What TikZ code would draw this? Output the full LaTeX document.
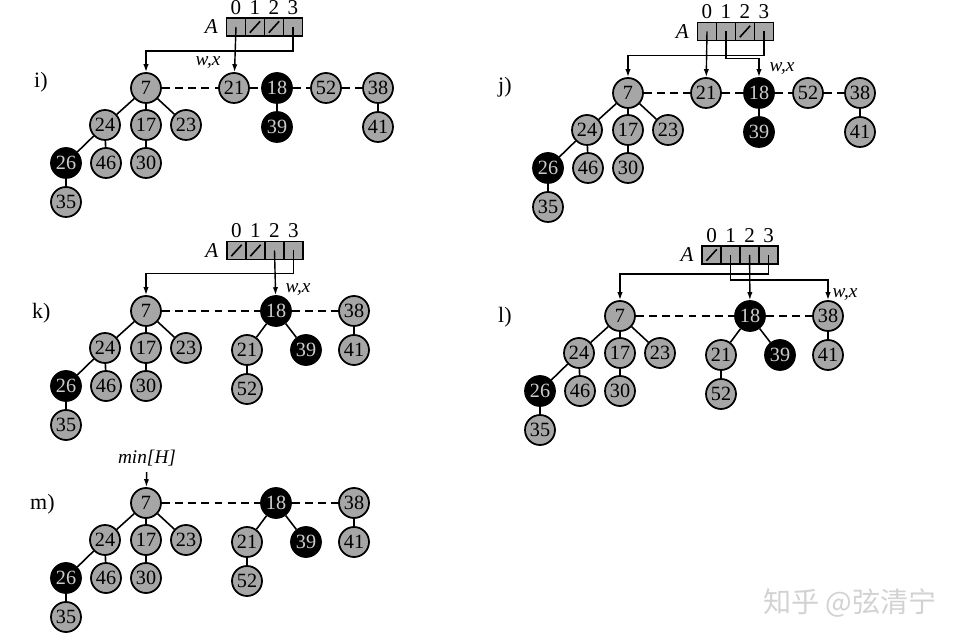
\documentclass[tikz,border=0pt]{standalone}
\usepackage{fontspec}
\setmainfont{Liberation Serif}
\newfontfamily\cjkfont{Noto Sans CJK SC}
\usepackage{tikz}
\usetikzlibrary{arrows.meta,positioning,calc}

\begin{document}
\begin{tikzpicture}[
    x=0.02cm, y=-0.02cm,
    key/.style={circle, draw, line width=1pt, fill=gray!70, minimum size=0.6cm, inner sep=0pt, font=\fontsize{11.5}{12}\selectfont},
    dark/.style={key, fill=black, text=black!20},
    cell/.style={rectangle, draw, line width=0.8pt, fill=gray!70, minimum width=0.38cm, minimum height=0.36cm, inner sep=0pt},
    idx/.style={font=\fontsize{12}{13}\selectfont, inner sep=1.5pt},
    tag/.style={font=\fontsize{12.5}{13}\selectfont, anchor=west},
    wx/.style={font=\fontsize{11}{12}\selectfont\itshape},
    link/.style={line width=0.9pt},
    sib/.style={line width=0.9pt, dash pattern=on 4.5pt off 3pt},
    ptr/.style={-{Latex[length=4.5pt,width=3pt]}, line width=0.8pt}
]
\useasboundingbox (0,0) rectangle (964,641);

% Left-hand tree, same in every panel
\foreach \p/\x/\y in {i/146/88, j/628/93, k/146/311, l/620/316, m/146/503} {
  \begin{scope}[shift={(\x,\y)}, name prefix=\p-]
    \node[key] (n7) at (0,0) {7};
    \node[key] (n24) at (-41,37) {24};
    \node[key] (n17) at (0,37) {17};
    \node[key] (n23) at (40,37) {23};
    \node[dark] (n26) at (-80,75) {26};
    \node[key] (n46) at (-40,75) {46};
    \node[key] (n30) at (0,75) {30};
    \node[key] (n35) at (-80,114) {35};
    \draw[link] (n7) -- (n24);
    \draw[link] (n7) -- (n17);
    \draw[link] (n7) -- (n23);
    \draw[link] (n24) -- (n26);
    \draw[link] (n24) -- (n46);
    \draw[link] (n17) -- (n30);
    \draw[link] (n26) -- (n35);
  \end{scope}
}

% Root list of i) and j)
\foreach \p/\x/\y/\a in {i/146/88/88, j/628/93/78} {
  \begin{scope}[shift={(\x,\y)}, name prefix=\p-]
    \node[key] (n21) at (\a,0) {21};
    \node[dark] (n18) at (131,0) {18};
    \node[key] (n52) at (180,0) {52};
    \node[key] (n38) at (232,0) {38};
    \node[dark] (n39) at (131,39) {39};
    \node[key] (n41) at (232,39) {41};
    \draw[link] (n18) -- (n39);
    \draw[link] (n38) -- (n41);
    \draw[sib] (n7) -- (n21);
    \draw[sib] (n21) -- (n18);
    \draw[sib] (n18) -- (n52);
    \draw[sib] (n52) -- (n38);
  \end{scope}
}

% Root list of k), l) and m)
\foreach \p/\x/\y in {k/146/311, l/620/316, m/146/503} {
  \begin{scope}[shift={(\x,\y)}, name prefix=\p-]
    \node[dark] (n18) at (130,0) {18};
    \node[key] (n38) at (208,0) {38};
    \node[key] (n21) at (101,39) {21};
    \node[dark] (n39) at (160,39) {39};
    \node[key] (n41) at (208,39) {41};
    \node[key] (n52) at (101,78) {52};
    \draw[link] (n18) -- (n21);
    \draw[link] (n18) -- (n39);
    \draw[link] (n21) -- (n52);
    \draw[link] (n38) -- (n41);
    \draw[sib] (n7) -- (n18);
    \draw[sib] (n18) -- (n38);
  \end{scope}
}

% Arrays A
\foreach \p/\x/\y in {i/236/27, j/707/31.5, k/236.5/250.5, l/711.6/255} {
  \foreach \c in {0,...,3} {
    \node[cell] (\p-c\c) at (\x+19*\c,\y) {};
    \node[idx, above=0pt of \p-c\c] (\p-d\c) {\c};
  }
  \node[wx, font=\fontsize{12}{13}\selectfont\itshape, left=1pt of \p-c0] (\p-A) {A};
}

% Empty entries
\foreach \s in {i-c1, i-c2, j-c2, k-c0, k-c1, l-c0}
  \draw[link] ($(\s.south west)+(5,-4)$) -- ($(\s.north east)+(-5,4)$);

% Pointers
\draw[ptr] (i-c0.center) -- (i-n21);
\draw[ptr] (i-c3.center) -- ++(0,24) -| (i-n7);
\draw[ptr] (j-c0.center) -- (j-n21);
\draw[ptr] (j-c1.center) -- ++(0,27) -| (j-n18);
\draw[ptr] (j-c3.center) -- ++(0,24) -| (j-n7);
\draw[ptr] (k-c2.center) -- (k-n18);
\draw[ptr] (k-c3.center) -- ++(0,23) -| (k-n7);
\draw[ptr] (l-c1.center) -- ++(0,25) -| (l-n38);
\draw[ptr] (l-c2.center) -- (l-n18);
\draw[ptr] (l-c3.center) -- ++(0,19) -| (l-n7);

% w, x labels
\node[wx] (i-wx) at (208,63) {w,x};
\node[wx] (j-wx) at (782,69) {w,x};
\node[wx] (k-wx) at (298,290) {w,x};
\node[wx] (l-wx) at (845,295) {w,x};

% min[H]
\node[wx] (m-min) at (147,458) {min[H]};
\draw[ptr] (m-min) -- (m-n7);

% Panel tags
\node[tag] (i-tag) at (28,82) {i)};
\node[tag] (j-tag) at (492,87) {j)};
\node[tag] (k-tag) at (26,313) {k)};
\node[tag] (l-tag) at (492,317) {l)};
\node[tag] (m-tag) at (24,504) {m)};

% Watermark
\node[font=\cjkfont\fontsize{16}{18}\selectfont, text=gray!35] (mark) at (850,603) {知乎 @弦清宁};

\end{tikzpicture}
\end{document}
